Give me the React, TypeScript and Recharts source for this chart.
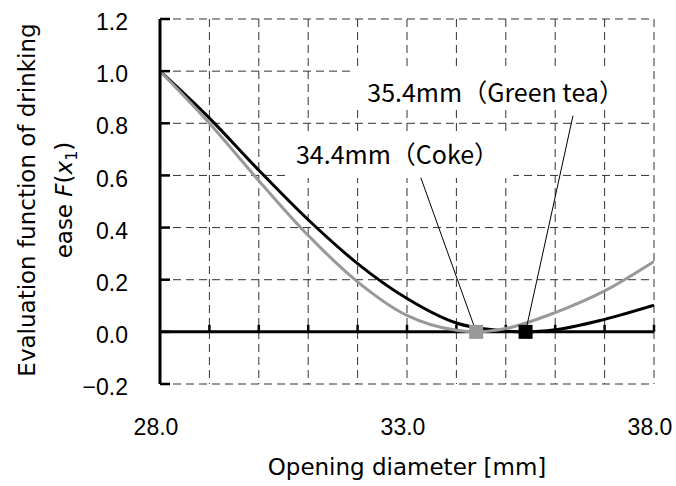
import React from 'react';
import {
  ComposedChart,
  Line,
  XAxis,
  YAxis,
  CartesianGrid,
  ReferenceLine,
  ReferenceArea,
  ReferenceDot,
  Label,
} from 'recharts';

// Green tea (black curve), optimum 35.4 mm
const greenTeaX = [28, 29, 30, 31, 32, 33, 34, 35, 35.4, 36, 37, 38];
const greenTeaF = [1.0, 0.82, 0.62, 0.43, 0.262, 0.128, 0.034, 0.003, 0, 0.008, 0.048, 0.102];
// Coke (gray curve), optimum 34.4 mm
const cokeX = [28, 29, 30, 31, 32, 33, 34, 34.4, 35, 36, 37, 38];
const cokeF = [1.0, 0.8, 0.58, 0.37, 0.192, 0.063, 0.006, 0, 0.013, 0.074, 0.157, 0.27];

const optimumX = [34.4, 35.4];
const optimumLabels = ['34.4mm（Coke）', '35.4mm（Green tea）'];
// leader line start points (at the label boxes)
const leaderStartX = [33.28, 36.36];
const leaderStartY = [0.591, 0.829];
// white boxes behind labels [x1, x2, y1, y2]
const labelBoxX1 = [30.63, 31.85];
const labelBoxX2 = [35.15, 37.9];
const labelBoxY1 = [0.59, 0.852];
const labelBoxY2 = [0.76, 1.01];

const xTicks = [28, 29, 30, 31, 32, 33, 34, 35, 36, 37, 38];
const xLabelTicks = [28, 33, 38];
const yTicks = [-0.2, 0, 0.2, 0.4, 0.6, 0.8, 1.0, 1.2];

const xTitle = 'Opening diameter [mm]';
const yTitle1 = 'Evaluation function of drinking';
const yTitle2 = 'ease ';

const FONT_TICK = '"Liberation Sans", Arial, sans-serif';
const FONT_TITLE = '"DejaVu Sans", sans-serif';
const FONT_NOTE = '"Noto Sans CJK JP", sans-serif';

const GRAY = '#999999';

const blackData = greenTeaX.map((x, i) => ({ x, f: greenTeaF[i] }));
const grayData = cokeX.map((x, i) => ({ x, f: cokeF[i] }));

const YTitle = (props: any) => {
  const vb = props.viewBox || { x: 0, y: 19, width: 160, height: 365 };
  const cy = vb.y + vb.height / 2 - 1.5;
  const x1 = vb.x + 35;
  const x2 = vb.x + 72;
  return (
    <g fontFamily={FONT_TITLE} fontSize={23} fill="#000">
      <text x={x1} y={cy} textAnchor="middle" transform={`rotate(-90, ${x1}, ${cy})`}>
        {yTitle1}
      </text>
      <text x={x2} y={cy} textAnchor="middle" transform={`rotate(-90, ${x2}, ${cy})`}>
        {yTitle2}
        <tspan fontStyle="italic">F</tspan>
        <tspan>(</tspan>
        <tspan fontStyle="italic">x</tspan>
        <tspan fontSize={16} dy={5}>1</tspan>
        <tspan dy={-5}>)</tspan>
      </text>
    </g>
  );
};

const XTitle = (props: any) => {
  const vb = props.viewBox || { x: 160, y: 384, width: 494, height: 102 };
  return (
    <text
      x={vb.x + vb.width / 2}
      y={vb.y + 91}
      textAnchor="middle"
      fontFamily={FONT_TITLE}
      fontSize={23}
      fill="#000"
    >
      {xTitle}
    </text>
  );
};

const makeNote = (text: string, dx: number, baseline: number) => (props: any) => {
  const vb = props.viewBox;
  if (!vb) return null;
  return (
    <text
      x={vb.x + vb.width / 2 + dx}
      y={vb.y + baseline}
      textAnchor="middle"
      fontFamily={FONT_NOTE}
      fontSize={25}
      fill="#000"
    >
      {text}
    </text>
  );
};

const noteDx = [-4, -4];
const noteBaseline = [30, 33];

const square = (color: string) => (props: any) => {
  const { cx, cy } = props;
  if (cx == null || cy == null) return null;
  return <rect x={cx - 7} y={cy - 7} width={14} height={14} fill={color} />;
};
const markerColors = [GRAY, '#000'];

export default function App() {
  return (
    <div style={{ position: 'absolute', left: 0, top: 0, width: 676, height: 486, background: '#fff' }}>
      <ComposedChart width={676} height={486} margin={{ top: 19, right: 22, bottom: 0, left: 0 }}>
        <CartesianGrid stroke="#333" strokeDasharray="8 5" strokeWidth={1} />
        <XAxis
          type="number"
          dataKey="x"
          domain={[28, 38]}
          ticks={xTicks}
          interval={0}
          allowDataOverflow
          height={102}
          axisLine={false}
          tickLine={false}
          tickSize={0}
          tickMargin={35}
          tick={{ fontSize: 23, fontFamily: FONT_TICK, fill: '#000', dx: -4 }}
          tickFormatter={(v: number) => (xLabelTicks.includes(v) ? v.toFixed(1) : '')}
        >
          <Label content={XTitle} />
        </XAxis>
        <YAxis
          type="number"
          dataKey="f"
          domain={[-0.2, 1.2]}
          ticks={yTicks}
          interval={0}
          allowDataOverflow
          width={160}
          axisLine={{ stroke: '#000', strokeWidth: 3 }}
          tickLine={{ stroke: '#000', strokeWidth: 2.5 }}
          tickSize={-10}
          tickMargin={42}
          tick={{ fontSize: 23, fontFamily: FONT_TICK, fill: '#000', dy: 3 }}
          tickFormatter={(v: number) => (v < 0 ? '\u2212' + Math.abs(v).toFixed(1) : v.toFixed(1))}
        >
          <Label content={YTitle} />
        </YAxis>

        {labelBoxX1.map((x1, i) => (
          <ReferenceArea
            key={'box' + i}
            x1={x1}
            x2={labelBoxX2[i]}
            y1={labelBoxY1[i]}
            y2={labelBoxY2[i]}
            fill="#fff"
            fillOpacity={1}
            stroke="none"
            ifOverflow="visible"
            label={makeNote(optimumLabels[i], noteDx[i], noteBaseline[i])}
          />
        ))}

        <ReferenceLine y={0} stroke="#000" strokeWidth={3} ifOverflow="visible" />
        {xTicks.slice(1).map((t) => (
          <ReferenceLine
            key={'xt' + t}
            segment={[
              { x: t, y: 0 },
              { x: t, y: 0.027 },
            ]}
            stroke="#000"
            strokeWidth={2.5}
            ifOverflow="visible"
          />
        ))}

        <Line
          data={blackData}
          dataKey="f"
          type="monotone"
          stroke="#000"
          strokeWidth={3}
          dot={false}
          activeDot={false}
          isAnimationActive={false}
        />
        <Line
          data={grayData}
          dataKey="f"
          type="monotone"
          stroke={GRAY}
          strokeWidth={3}
          dot={false}
          activeDot={false}
          isAnimationActive={false}
        />

        {optimumX.map((x, i) => (
          <ReferenceDot
            key={'m' + i}
            x={x}
            y={0}
            r={7}
            shape={square(markerColors[i])}
            ifOverflow="visible"
          />
        ))}

        {optimumX.map((x, i) => (
          <ReferenceLine
            key={'lead' + i}
            segment={[
              { x: leaderStartX[i], y: leaderStartY[i] },
              { x, y: 0 },
            ]}
            stroke="#000"
            strokeWidth={1}
            ifOverflow="visible"
          />
        ))}
      </ComposedChart>
    </div>
  );
}
